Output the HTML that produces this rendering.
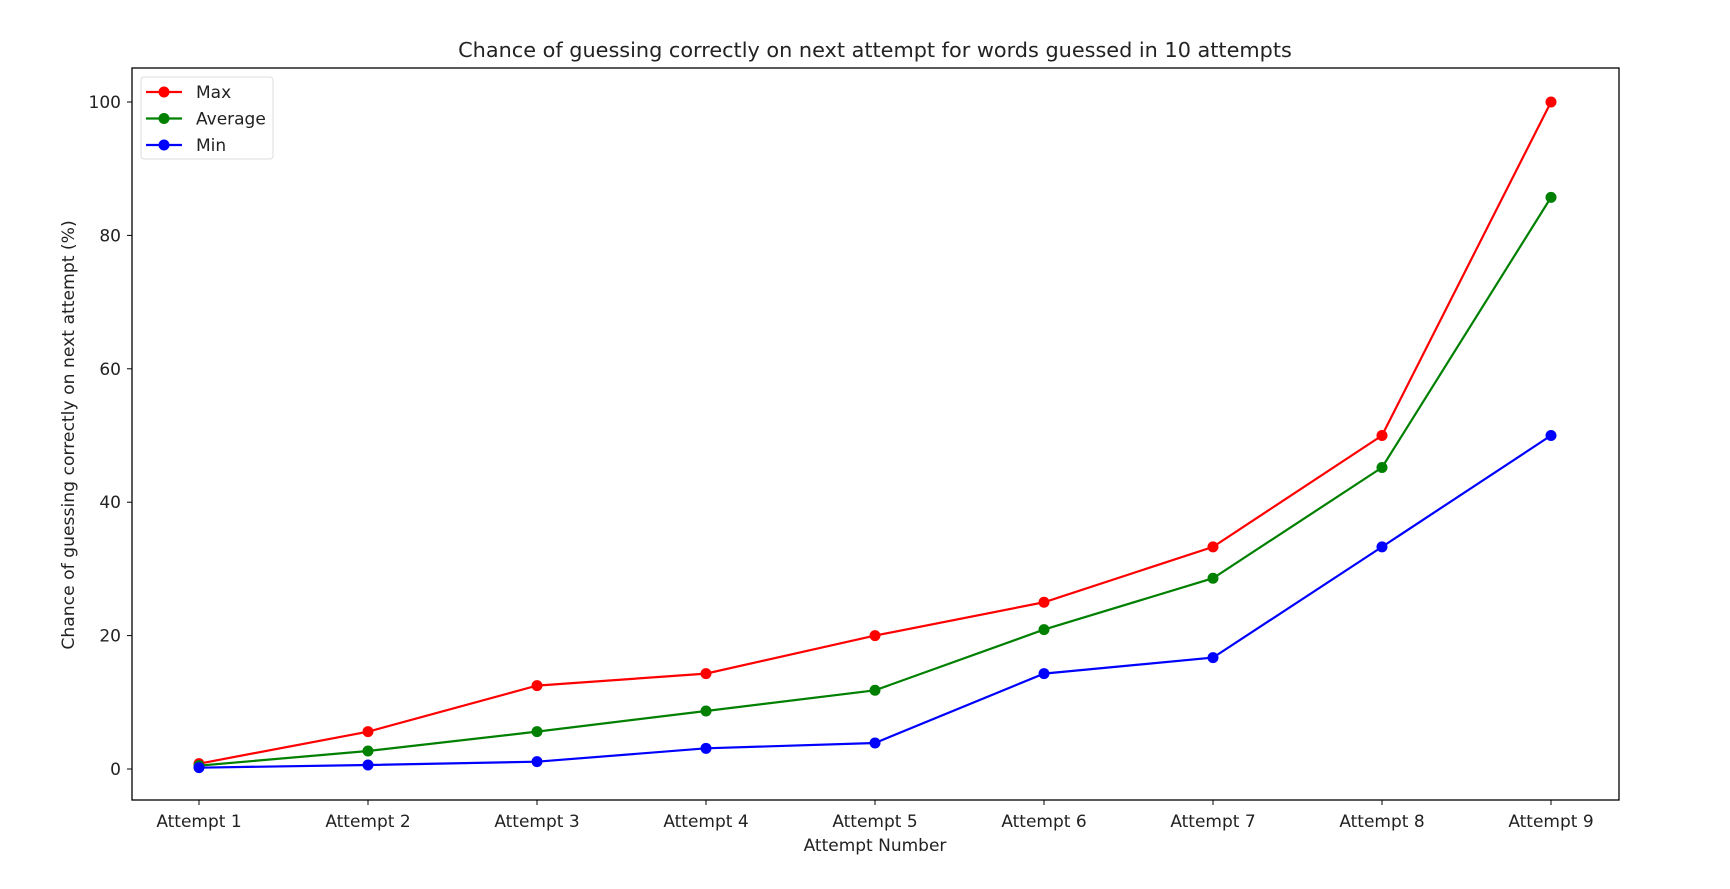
<!DOCTYPE html>
<html><head><meta charset="utf-8"><style>
body{margin:0;background:#fff}
svg text{font-family:"DejaVu Sans","Liberation Sans",sans-serif;fill:#222}
</style></head><body>
<svg id="chart" width="1730" height="884" xmlns="http://www.w3.org/2000/svg">
<rect width="1730" height="884" fill="#fff"/>
<text x="875" y="57" font-size="20.8" text-anchor="middle">Chance of guessing correctly on next attempt for words guessed in 10 attempts</text>
<text x="875" y="851" font-size="17" text-anchor="middle">Attempt Number</text>
<text transform="translate(74,435) rotate(-90)" font-size="17.2" text-anchor="middle">Chance of guessing correctly on next attempt (%)</text>
<g id="plot"></g>
<rect x="132" y="68" width="1487" height="732" fill="none" stroke="#000" stroke-width="1.3"/>
<g id="legend"></g>
</svg>
<script>
const categories=["Attempt 1","Attempt 2","Attempt 3","Attempt 4","Attempt 5","Attempt 6","Attempt 7","Attempt 8","Attempt 9"];
const maxValues=[0.8,5.6,12.5,14.3,20,25,33.3,50,100];
const avgValues=[0.5,2.7,5.6,8.7,11.8,20.9,28.6,45.2,85.7];
const minValues=[0.2,0.6,1.1,3.1,3.9,14.3,16.7,33.3,50];
const yTicks=[0,20,40,60,80,100];
const seriesNames=["Max","Average","Min"];
const NS="http://www.w3.org/2000/svg";
const g=document.getElementById('plot');
const x=i=>199+i*169;
const y=v=>769-v*6.67;
function mk(t,a,p){const e=document.createElementNS(NS,t);for(const k in a)e.setAttribute(k,a[k]);(p||g).appendChild(e);return e;}
categories.forEach((c,i)=>{
  const t=mk('line',{x1:x(i),x2:x(i),y1:800,y2:805,stroke:'#000'});
  
  
  const l=mk('text',{x:x(i),y:827,'font-size':17,'text-anchor':'middle'});
  l.textContent=c;
  
  
});
yTicks.forEach(v=>{
  const t=mk('line',{x1:127,x2:132,y1:y(v),y2:y(v),stroke:'#000'});
  
  
  const l=mk('text',{x:121,y:y(v)+6,'font-size':17,'text-anchor':'end'});
  l.textContent=v;
  
  
});
const series=[[maxValues,'#ff0000'],[avgValues,'#008000'],[minValues,'#0000ff']];
series.forEach(([vals,col],si)=>{
  const p=mk('polyline',{points:vals.map((v,i)=>x(i)+','+y(v)).join(' '),fill:'none',stroke:col,'stroke-width':2.2});
  
  
  vals.forEach((v,i)=>{
    const c=mk('circle',{cx:x(i),cy:y(v),r:5.5,fill:col});
    
    
  });
});
const lg=document.getElementById('legend');
const box=mk('rect',{x:141,y:77,width:132,height:82,rx:3,fill:'#fff',stroke:'#ddd'},lg);


series.forEach(([vals,col],si)=>{
  const yy=92+si*26.5;
  const gg=mk('g',{},lg);
  
  
  mk('line',{x1:146,x2:182,y1:yy,y2:yy,stroke:col,'stroke-width':2.2},gg);
  mk('circle',{cx:164,cy:yy,r:5.5,fill:col},gg);
  const t=mk('text',{x:196,y:yy+6,'font-size':17},gg);
  t.textContent=seriesNames[si];
});
</script>
</body></html>
